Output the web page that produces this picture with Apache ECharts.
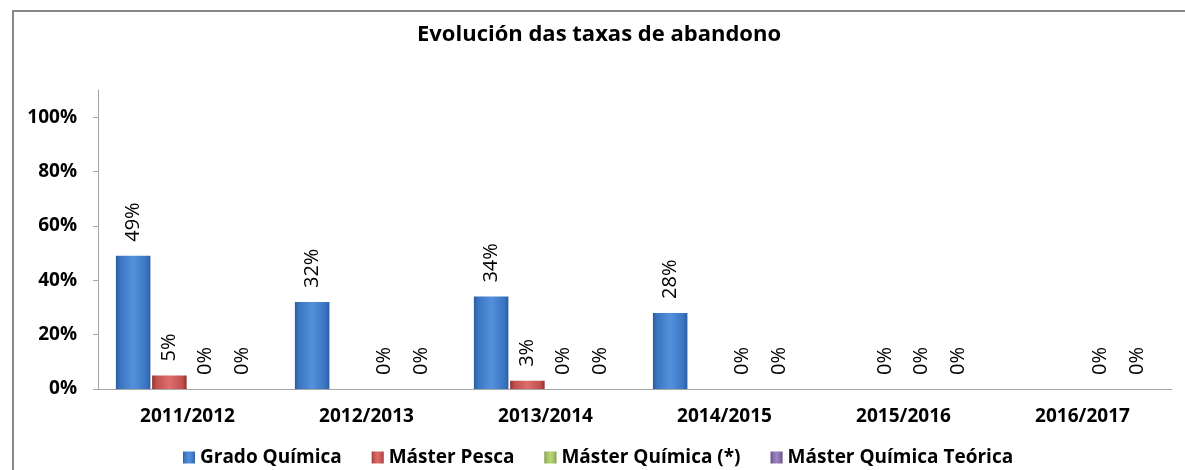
<!DOCTYPE html>
<html>
<head>
<meta charset="utf-8">
<script src="https://cdn.jsdelivr.net/npm/echarts@6/dist/echarts.min.js"></script>
<style>
html, body { margin: 0; padding: 0; background: #fff; }
#chart { width: 1185px; height: 470px; }
</style>
</head>
<body>
<div id="chart"></div>
<script>
var categories = ['2011/2012', '2012/2013', '2013/2014', '2014/2015', '2015/2016', '2016/2017'];
var seriesNames = ['Grado Química', 'Máster Pesca', 'Máster Química (*)', 'Máster Química Teórica'];
var gradoQuimica = [49, 32, 34, 28, null, null];
var masterPesca = [5, null, 3, null, 0, null];
var masterQuimica = [0, 0, 0, 0, 0, 0];
var masterTeorica = [0, 0, 0, 0, 0, 0];
var yTicks = [0, 20, 40, 60, 80, 100];

var font = '"Open Sans", sans-serif';
// [dark edge, main, light centre]
var palette = [
    ['#2b5d9e', '#3a75c2', '#5590dc'],
    ['#8f302d', '#c0504d', '#de6e6b'],
    ['#6e8a37', '#9bbb59', '#b8d67a'],
    ['#5a4280', '#8064a2', '#9e86c0']
];

function barStyle(c) {
    return {
        color: new echarts.graphic.LinearGradient(0, 0, 1, 0, [
            { offset: 0, color: c[0] },
            { offset: 0.12, color: c[1] },
            { offset: 0.5, color: c[2] },
            { offset: 0.88, color: c[1] },
            { offset: 1, color: c[0] }
        ]),
        borderWidth: 0
    };
}

var values = [gradoQuimica, masterPesca, masterQuimica, masterTeorica];
var series = values.map(function (data, i) {
    return {
        name: seriesNames[i],
        type: 'bar',
        data: data,
        barCategoryGap: '20%',
        barGap: '5%',
        itemStyle: barStyle(palette[i]),
        label: {
            show: true,
            position: 'top',
            rotate: 90,
            align: 'left',
            verticalAlign: 'middle',
            distance: 14,
            formatter: '{c}%',
            fontFamily: font,
            fontSize: 20,
            color: '#000'
        }
    };
});

var chart = echarts.init(document.getElementById('chart'));
chart.setOption({
    animation: false,
    title: {
        text: 'Evolución das taxas de abandono',
        left: 412,
        top: 19,
        textStyle: { fontFamily: font, fontWeight: 'bold', fontSize: 22, color: '#000' }
    },
    graphic: [{
        type: 'rect',
        shape: { x: 13, y: 11, width: 1200, height: 500 },
        style: { fill: 'none', stroke: '#868686', lineWidth: 2 }
    }],
    legend: {
        data: seriesNames,
        top: 443,
        left: 178,
        icon: 'rect',
        itemWidth: 12,
        itemHeight: 12,
        itemGap: 30,
        textStyle: { fontFamily: font, fontWeight: 'bold', fontSize: 19, color: '#000' }
    },
    grid: { left: 98, right: 13, top: 90, bottom: 81 },
    xAxis: {
        type: 'category',
        data: categories,
        axisLine: { lineStyle: { color: '#a6a6a6', width: 1 } },
        axisTick: { alignWithLabel: true, length: 5, lineStyle: { color: '#a6a6a6' } },
        axisLabel: { fontFamily: font, fontWeight: 'bold', fontSize: 19, color: '#000', margin: 18 }
    },
    yAxis: {
        type: 'value',
        min: 0,
        max: 110,
        interval: 20,
        splitLine: { show: false },
        axisLine: { show: true, lineStyle: { color: '#a6a6a6', width: 1 } },
        axisTick: { show: true, length: 5, customValues: yTicks, lineStyle: { color: '#a6a6a6' } },
        axisLabel: {
            customValues: yTicks,
            formatter: '{value}%',
            fontFamily: font,
            fontWeight: 'bold',
            fontSize: 19,
            color: '#000',
            margin: 21
        }
    },
    series: series
});
</script>
</body>
</html>
